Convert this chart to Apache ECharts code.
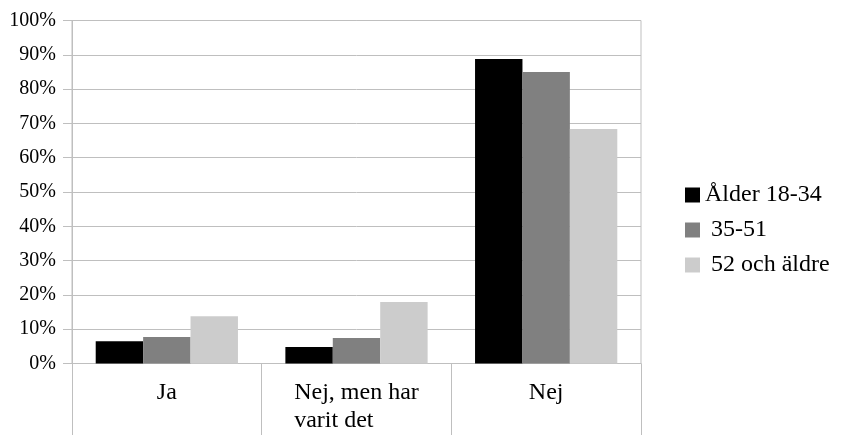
<!DOCTYPE html>
<html>
<head>
<meta charset="utf-8">
<script src="https://cdn.jsdelivr.net/npm/echarts@6/dist/echarts.min.js"></script>
<style>
html,body{margin:0;padding:0;background:#fff;}
#chart{width:841px;height:435px;}
</style>
</head>
<body>
<div id="chart"></div>
<script>
var categories = ['Ja', 'Nej, men har\nvarit det', 'Nej'];
var seriesNames = ['Ålder 18-34', ' 35-51', ' 52 och äldre'];
var age18to34 = [6.5, 4.8, 88.8];
var age35to51 = [7.7, 7.4, 85.0];
var age52plus = [13.8, 17.9, 68.4];
var yTicks = [0, 10, 20, 30, 40, 50, 60, 70, 80, 90, 100];

var FONT = "'Liberation Serif', 'Times New Roman', serif";
var GRIDC = '#bfbfbf';
var colors = ['#000000', '#808080', '#cccccc'];
var seriesData = [age18to34, age35to51, age52plus];

var chart = echarts.init(document.getElementById('chart'), null, {renderer: 'canvas'});
chart.setOption({
  animation: false,
  backgroundColor: '#ffffff',
  textStyle: {fontFamily: FONT},
  grid: {
    left: 72, right: 200, top: 20.5, bottom: 71.5,
    show: true, borderColor: GRIDC, borderWidth: 1, backgroundColor: 'transparent'
  },
  legend: {
    orient: 'vertical',
    left: 680, top: 178,
    icon: 'rect',
    itemWidth: 15, itemHeight: 15,
    itemGap: 11,
    textStyle: {fontFamily: FONT, fontSize: 24, color: '#000', lineHeight: 24},
    data: seriesNames
  },
  xAxis: {
    type: 'category',
    data: categories,
    axisLine: {show: true, lineStyle: {color: GRIDC, width: 1}},
    axisTick: {show: true, interval: 0, length: 75, lineStyle: {color: GRIDC, width: 1}},
    axisLabel: {
      interval: 0,
      margin: 15,
      color: '#000',
      fontFamily: FONT,
      fontSize: 24,
      lineHeight: 28,
      formatter: function (v) {
        var lines = v.split('\n');
        if (lines.length === 1) return v;
        return lines.map(function (l) { return '{l|' + l + '}'; }).join('\n');
      },
      rich: {
        l: {align: 'left', fontFamily: FONT, fontSize: 24, lineHeight: 28, color: '#000'}
      }
    }
  },
  yAxis: {
    type: 'value',
    min: yTicks[0], max: yTicks[yTicks.length - 1], interval: yTicks[1] - yTicks[0],
    axisLine: {show: true, lineStyle: {color: GRIDC, width: 1}},
    axisTick: {show: true, length: 9, lineStyle: {color: GRIDC, width: 1}},
    splitLine: {show: true, lineStyle: {color: GRIDC, width: 1}},
    axisLabel: {
      margin: 16,
      color: '#000',
      fontFamily: FONT,
      fontSize: 20,
      formatter: '{value}%'
    }
  },
  series: seriesNames.map(function (name, i) {
    return {
      name: name,
      type: 'bar',
      data: seriesData[i],
      barGap: '0%',
      barCategoryGap: '25%',
      itemStyle: {color: colors[i]}
    };
  })
});
</script>
</body>
</html>
